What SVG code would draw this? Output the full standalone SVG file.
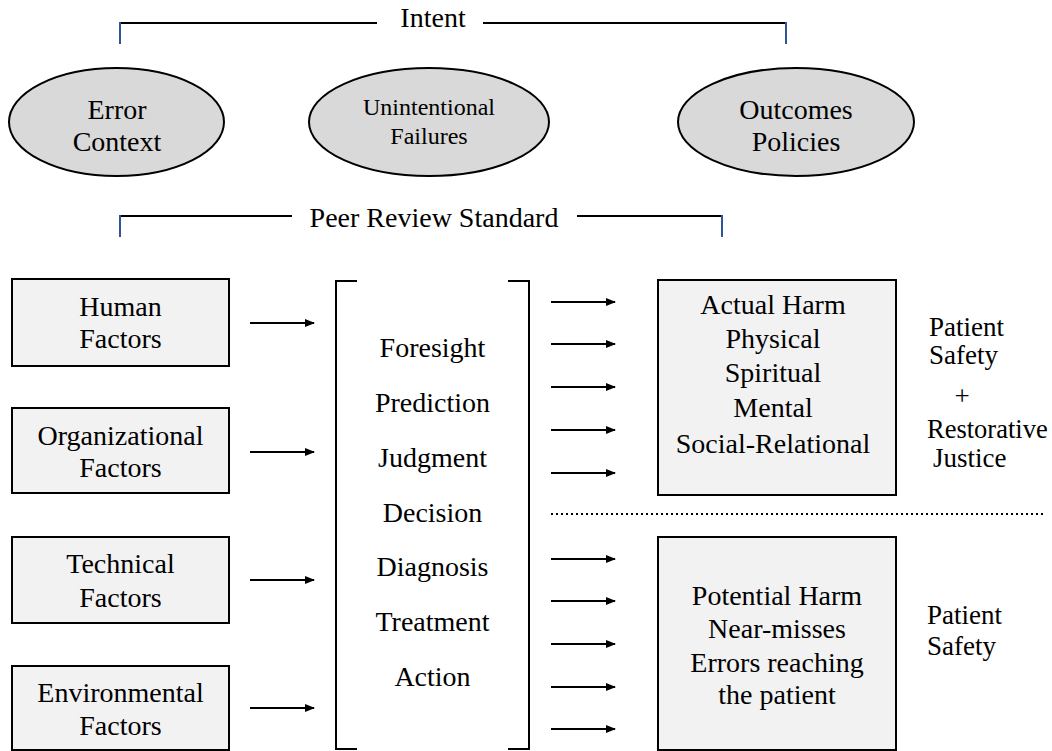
<svg xmlns="http://www.w3.org/2000/svg" width="1052" height="751" viewBox="0 0 1052 751">
<style>
text{font-family:"Liberation Serif","Times New Roman",serif;font-size:28px;fill:#000}
.c{text-anchor:middle}
.s{text-anchor:start}
.ell{fill:#d9d9d9;stroke:#000;stroke-width:2}
.box{fill:#f2f2f2;stroke:#000;stroke-width:2}
.ln{stroke:#000;stroke-width:2;fill:none}
.tick{stroke:#2f5597;stroke-width:2;fill:none}
.arr{stroke:#000;stroke-width:2;fill:none;marker-end:url(#ah)}
</style>
<defs>
<marker id="ah" markerWidth="10" markerHeight="8" refX="9" refY="4" orient="auto" markerUnits="userSpaceOnUse">
<path d="M0,0 L10,4 L0,8 Z" fill="#000"/>
</marker>
</defs>
<rect width="1052" height="751" fill="#fff"/>

<g id="intent">
<path class="ln" d="M119,23 H377 M483,23 H787"/>
<path class="tick" d="M120,22 V44 M786,22 V44"/>
<text class="c" x="433" y="27">Intent</text>
</g>

<g id="error-context">
<ellipse class="ell" cx="116.5" cy="122" rx="107.5" ry="54"/>
<text class="c" x="117" y="119">Error</text>
<text class="c" x="117" y="151">Context</text>
</g>
<g id="unintentional-failures">
<ellipse class="ell" cx="429" cy="122" rx="120" ry="54"/>
<text class="c" x="429" y="115" style="font-size:24px">Unintentional</text>
<text class="c" x="429" y="144" style="font-size:24px">Failures</text>
</g>
<g id="outcomes-policies">
<ellipse class="ell" cx="796" cy="122" rx="118" ry="54"/>
<text class="c" x="796" y="119">Outcomes</text>
<text class="c" x="796" y="151">Policies</text>
</g>

<g id="peer-review">
<path class="ln" d="M119,216 H292 M577,216 H723"/>
<path class="tick" d="M120,215 V237 M722,215 V237"/>
<text class="c" x="434" y="227">Peer Review Standard</text>
</g>

<g id="human-factors">
<rect class="box" x="12" y="279" width="217" height="87"/>
<text class="c" x="120.5" y="316">Human</text>
<text class="c" x="120.5" y="348">Factors</text>
</g>
<g id="organizational-factors">
<rect class="box" x="12" y="408" width="217" height="85"/>
<text class="c" x="120.5" y="445">Organizational</text>
<text class="c" x="120.5" y="477">Factors</text>
</g>
<g id="technical-factors">
<rect class="box" x="12" y="537" width="217" height="86"/>
<text class="c" x="120.5" y="573">Technical</text>
<text class="c" x="120.5" y="607">Factors</text>
</g>
<g id="environmental-factors">
<rect class="box" x="12" y="666" width="217" height="84"/>
<text class="c" x="120.5" y="702">Environmental</text>
<text class="c" x="120.5" y="735">Factors</text>
</g>

<g id="process">
<path class="ln" d="M357,281 H336 V749 H357 M508,281 H529 V749 H508"/>
<text class="c" x="432.5" y="357">Foresight</text>
<text class="c" x="432.5" y="412">Prediction</text>
<text class="c" x="432.5" y="467">Judgment</text>
<text class="c" x="432.5" y="522">Decision</text>
<text class="c" x="432.5" y="576">Diagnosis</text>
<text class="c" x="432.5" y="631">Treatment</text>
<text class="c" x="432.5" y="686">Action</text>
</g>

<g id="actual-harm">
<rect class="box" x="658" y="280" width="238" height="215"/>
<text class="c" x="773" y="314">Actual Harm</text>
<text class="c" x="773" y="348">Physical</text>
<text class="c" x="773" y="382">Spiritual</text>
<text class="c" x="773" y="417">Mental</text>
<text class="c" x="773" y="453">Social-Relational</text>
</g>
<g id="potential-harm">
<rect class="box" x="658" y="537" width="238" height="213"/>
<text class="c" x="777" y="605">Potential Harm</text>
<text class="c" x="777" y="638">Near-misses</text>
<text class="c" x="777" y="672">Errors reaching</text>
<text class="c" x="777" y="704">the patient</text>
</g>

<g id="label-top">
<text class="s" x="929" y="336" style="font-size:27px">Patient</text>
<text class="s" x="929" y="364" style="font-size:27px">Safety</text>
<text class="c" x="962" y="405" style="font-size:27px">+</text>
<text class="s" x="927" y="438" style="font-size:26.5px">Restorative</text>
<text class="s" x="933" y="467" style="font-size:27px">Justice</text>
</g>
<g id="label-bottom">
<text class="s" x="927" y="624" style="font-size:27px">Patient</text>
<text class="s" x="927" y="655" style="font-size:27px">Safety</text>
</g>

<g id="connectors">
<path class="arr" d="M250,323 H314"/>
<path class="arr" d="M250,452 H314"/>
<path class="arr" d="M250,580 H314"/>
<path class="arr" d="M250,708 H314"/>
<path class="arr" d="M551,302 H615"/>
<path class="arr" d="M551,344 H615"/>
<path class="arr" d="M551,387 H615"/>
<path class="arr" d="M551,430 H615"/>
<path class="arr" d="M551,473 H615"/>
<path class="arr" d="M551,559 H615"/>
<path class="arr" d="M551,601 H615"/>
<path class="arr" d="M551,644 H615"/>
<path class="arr" d="M551,687 H615"/>
<path class="arr" d="M551,729 H615"/>
<path d="M551,514 H1045" stroke="#000" stroke-width="2" stroke-dasharray="2,3" fill="none"/>
</g>
</svg>
